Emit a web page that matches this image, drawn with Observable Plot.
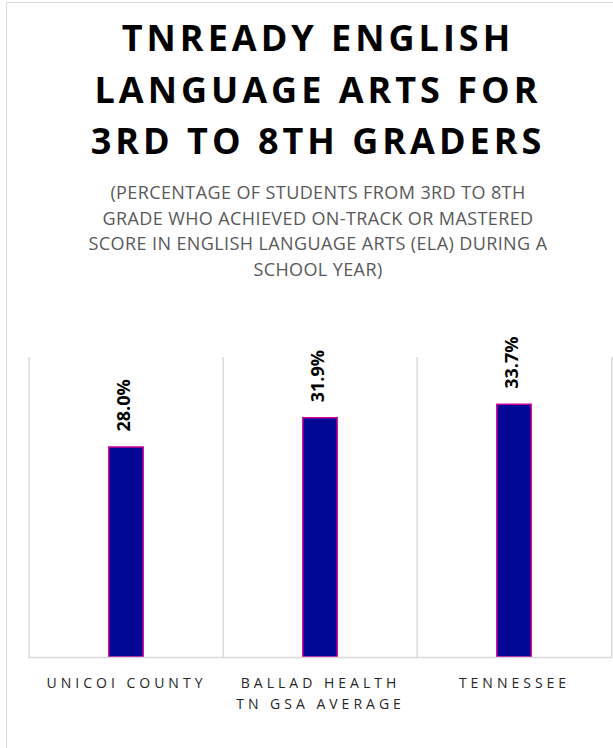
<!DOCTYPE html>
<html>
<head>
<meta charset="utf-8">
<script src="https://cdn.jsdelivr.net/npm/d3@7"></script>
<script src="https://cdn.jsdelivr.net/npm/@observablehq/plot@0.6"></script>
<style>
  html, body { margin: 0; padding: 0; background: #fff; overflow: hidden; }
  body { width: 613px; height: 748px; position: relative; font-family: "Open Sans", sans-serif; }
  #frame { position: absolute; left: 6px; top: 2px; width: 624px; height: 780px; border: 1.5px solid #d9d9d9; box-sizing: border-box; }
  #title { position: absolute; left: 6px; width: 624px; top: 12px; margin: 0; text-align: center;
           font: bold 36px/51.5px "Open Sans", sans-serif; letter-spacing: 4px; color: #000; white-space: nowrap; }
  #subtitle { position: absolute; left: 6px; width: 624px; top: 180px; margin: 0; text-align: center;
           font: 18px/25.5px "Open Sans", sans-serif; color: #595959; letter-spacing: 0.4px; white-space: nowrap; }
  #chart { position: absolute; left: 0; top: 310px; }
  #chart [aria-label="x-axis tick label"] text { letter-spacing: 4px; }
</style>
</head>
<body>
<div id="frame"></div>
<h1 id="title">TNREADY ENGLISH<br>LANGUAGE ARTS FOR<br>3RD TO 8TH GRADERS</h1>
<p id="subtitle">(PERCENTAGE OF STUDENTS FROM 3RD TO 8TH<br>GRADE WHO ACHIEVED ON-TRACK OR MASTERED<br>SCORE IN ENGLISH LANGUAGE ARTS (ELA) DURING A<br>SCHOOL YEAR)</p>
<div id="chart"></div>
<script>
const categories = ["Unicoi County", "Ballad Health TN GSA Average", "Tennessee"];
const values = [28.0, 31.9, 33.7];
const tickLabels = ["UNICOI COUNTY", "BALLAD HEALTH\nTN GSA AVERAGE", "TENNESSEE"];

const data = categories.map((c, i) => ({category: c, value: values[i]}));
const labelOf = new Map(categories.map((c, i) => [c, tickLabels[i]]));

const width = 613, height = 420;
const marginLeft = 28, marginRight = 1, marginTop = 47, marginBottom = 73;
const bw = (width - marginLeft - marginRight) / categories.length;
const barW = 35;
const inset = (bw - barW) / 2;

const plot = Plot.plot({
  width, height, marginLeft, marginRight, marginTop, marginBottom,
  style: {fontFamily: "Open Sans, sans-serif", background: "transparent", overflow: "visible"},
  x: {domain: categories, padding: 0, label: null},
  y: {domain: [0, 40], axis: null},
  marks: [
    Plot.ruleX(categories, {x: d => d, dx: -bw / 2, stroke: "#d9d9d9", strokeWidth: 1.5}),
    Plot.ruleX(categories.slice(-1), {x: d => d, dx: bw / 2, stroke: "#d9d9d9", strokeWidth: 1.5}),
    Plot.barY(data, {x: "category", y: "value", fill: "#020893", stroke: "#cc0099", strokeWidth: 1.5,
                     insetLeft: inset, insetRight: inset}),
    Plot.ruleY([0], {stroke: "#d9d9d9", strokeWidth: 1.5}),
    Plot.text(data, {x: "category", y: "value", text: d => d.value.toFixed(1) + "%",
                     rotate: -90, textAnchor: "start", dy: -16, dx: -2,
                     fontWeight: "bold", fontSize: 18, fill: "#000"}),
    Plot.axisX({tickSize: 0, tickPadding: 16, fontSize: 14, lineHeight: 1.5,
                fill: "#262626", tickFormat: d => labelOf.get(d), label: null})
  ]
});
document.getElementById("chart").appendChild(plot);
</script>
</body>
</html>
